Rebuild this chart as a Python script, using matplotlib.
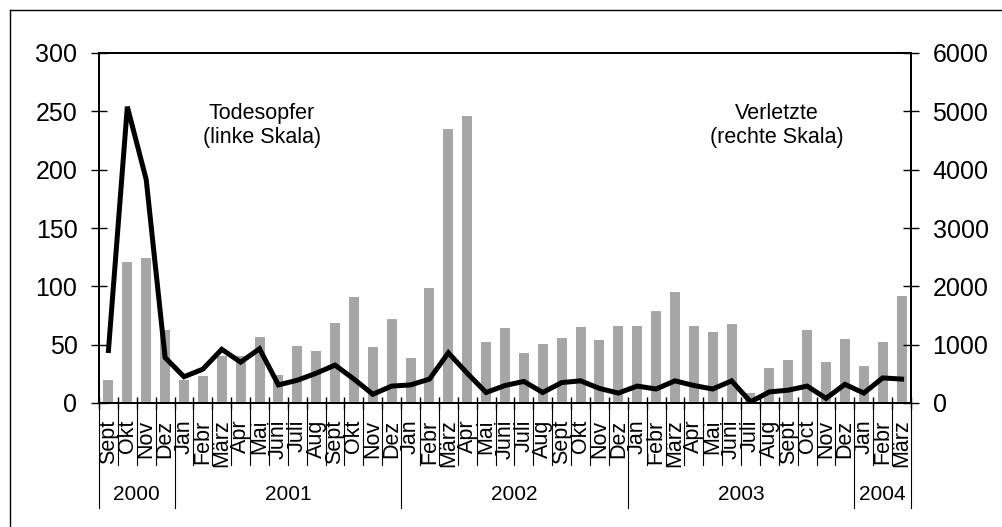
import matplotlib
matplotlib.use("Agg")
import matplotlib.pyplot as plt
import matplotlib.transforms as mtransforms
from matplotlib.lines import Line2D
import numpy as np

plt.rcParams['font.family'] = ['Liberation Sans', 'DejaVu Sans']

# ---- data ----
years = ["2000", "2001", "2002", "2003", "2004"]
months_2000 = ["Sept", "Okt", "Nov", "Dez"]
months_2001 = ["Jan", "Febr", "März", "Apr", "Mai", "Juni", "Juli", "Aug", "Sept", "Okt", "Nov", "Dez"]
months_2002 = ["Jan", "Febr", "März", "Apr", "Mai", "Juni", "Juli", "Aug", "Sept", "Okt", "Nov", "Dez"]
months_2003 = ["Jan", "Febr", "März", "Apr", "Mai", "Juni", "Juli", "Aug", "Sept", "Oct", "Nov", "Dez"]
months_2004 = ["Jan", "Febr", "März"]
year_months = [months_2000, months_2001, months_2002, months_2003, months_2004]

# Todesopfer (bars, left scale)
deaths = [20, 121, 124, 63,
          20, 23, 40, 40, 57, 24, 49, 45, 69, 91, 48, 72,
          39, 99, 235, 246, 52, 64, 43, 51, 56, 65, 54, 66,
          66, 79, 95, 66, 61, 68, 9, 30, 37, 63, 35, 55,
          32, 52, 92]
# Verletzte (line, right scale)
injured = [900, 5080, 3830, 780,
           450, 580, 920, 700, 930, 310, 390, 510, 650, 410, 150, 290,
           310, 410, 860, 510, 180, 300, 370, 180, 350, 380, 250, 170,
           290, 240, 380, 300, 240, 380, 20, 190, 220, 290, 80, 320,
           170, 430, 410]

left_ticks = [0, 50, 100, 150, 200, 250, 300]
right_ticks = [0, 1000, 2000, 3000, 4000, 5000, 6000]

month_labels = [m for ms in year_months for m in ms]
n = len(month_labels)
x = np.arange(n)

fig = plt.figure(figsize=(10.02, 5.27), dpi=100)
ax = fig.add_axes([99/1002, 1 - 403/527, (911-99)/1002, (403-53)/527])
ax2 = ax.twinx()

ax.bar(x, deaths, width=0.53, color='#a6a6a6', zorder=2)
ax2.plot(x, injured, color='black', lw=3.6, solid_joinstyle='miter', zorder=3)

ax.set_xlim(-0.5, n - 0.5)
ax.set_ylim(0, 300)
ax2.set_ylim(0, 6000)
ax.set_yticks(left_ticks)
ax2.set_yticks(right_ticks)

for a in (ax, ax2):
    for s in a.spines.values():
        s.set_linewidth(1.4)
        s.set_color('black')

ax.tick_params(axis='y', direction='inout', length=12, width=1.0, labelsize=18, pad=9.5)
ax2.tick_params(axis='y', direction='inout', length=12, width=1.0, labelsize=18, pad=9.5)

# month labels
ax.set_xticks(x)
ax.set_xticklabels(month_labels, rotation=90, fontsize=15.5)
ax.tick_params(axis='x', which='major', length=0, pad=12)
ax.set_xticks(np.arange(n + 1) - 0.5, minor=True)
ax.tick_params(axis='x', which='minor', direction='inout', length=8, width=1.0)

# separators below axis
trans = mtransforms.blended_transform_factory(ax.transData, ax.transAxes)
bounds = np.arange(n + 1) - 0.5
year_starts = [0]
for ms in year_months:
    year_starts.append(year_starts[-1] + len(ms))
year_bounds = set(b - 0.5 for b in year_starts)
for b in bounds:
    y1 = -0.30 if b in year_bounds else -0.177
    ax.add_line(Line2D([b, b], [0, y1], transform=trans, color='black', lw=0.8, clip_on=False))

for i, yl in enumerate(years):
    c = (year_starts[i] + year_starts[i + 1] - 1) / 2
    ax.text(c, -0.26, yl, transform=trans, ha='center', va='center', fontsize=15)

ax.text(0.2007, 0.793, "Todesopfer\n(linke Skala)", transform=ax.transAxes,
        ha='center', va='center', fontsize=15.5, linespacing=1.2)
ax.text(0.835, 0.793, "Verletzte\n(rechte Skala)", transform=ax.transAxes,
        ha='center', va='center', fontsize=15.5, linespacing=1.2)

# outer border (left and top visible)
fig.add_artist(Line2D([10/1002, 10/1002], [0, 1 - 10/527], transform=fig.transFigure, color='black', lw=1.0))
fig.add_artist(Line2D([10/1002, 1], [1 - 10/527, 1 - 10/527], transform=fig.transFigure, color='black', lw=1.0))

fig.savefig("out.png", dpi=100)
